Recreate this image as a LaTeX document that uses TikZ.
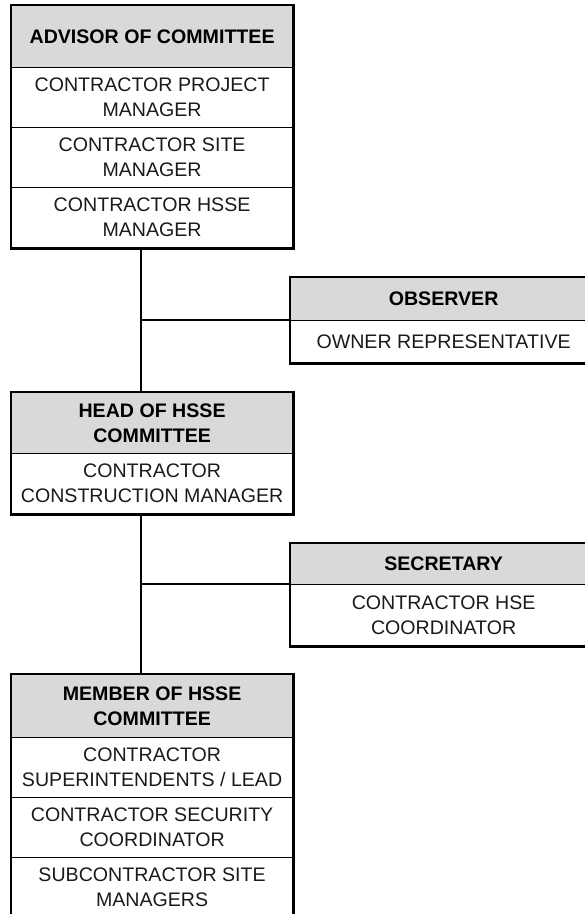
\documentclass[tikz,border=0pt]{standalone}
\usepackage{fontspec}
\setmainfont{Liberation Sans}
\definecolor{hdrgray}{HTML}{D9D9D9}
\definecolor{txtgray}{HTML}{1A1A1A}
\begin{document}
\begin{tikzpicture}[x=0.75pt,y=-0.75pt,
  cell/.style={draw=black, line width=0.9pt, align=center, inner sep=0pt,
    anchor=north west, text=txtgray,
    font=\fontsize{14.7pt}{18.75pt}\selectfont},
  hdr/.style={cell, fill=hdrgray, text=black,
    font=\fontsize{14.7pt}{18.75pt}\selectfont\bfseries},
  wl/.style={minimum width=281*0.75pt},
  wr/.style={minimum width=306*0.75pt},
  ht/.style={minimum height=#1*0.75pt},
  outer/.style={draw=black, line width=2.2pt},
  conn/.style={draw=black, line width=2pt}]
\useasboundingbox (0,0) rectangle (585,914);
\clip (0,0) rectangle (585,914);
\coordinate (sp) at (141,0);
% Advisor
\node[hdr,wl,ht=62] (a0) at (11,5) {ADVISOR OF COMMITTEE};
\node[cell,wl,ht=60] (a1) at (11,67) {CONTRACTOR PROJECT\\MANAGER};
\node[cell,wl,ht=60] (a2) at (11,127) {CONTRACTOR SITE\\MANAGER};
\node[cell,wl,ht=60] (a3) at (11,187) {CONTRACTOR HSSE\\MANAGER};
\draw[outer] (a0.north west) rectangle (a3.south east);
% Observer
\node[hdr,wr,ht=43] (o0) at (290,277) {OBSERVER};
\node[cell,wr,ht=42] (o1) at (290,320) {OWNER REPRESENTATIVE};
\draw[outer] (o0.north west) rectangle (o1.south east);
% Head
\node[hdr,wl,ht=61] (h0) at (11,392) {HEAD OF HSSE\\COMMITTEE};
\node[cell,wl,ht=60] (h1) at (11,453) {CONTRACTOR\\CONSTRUCTION MANAGER};
\draw[outer] (h0.north west) rectangle (h1.south east);
% Secretary
\node[hdr,wr,ht=41] (s0) at (290,543) {SECRETARY};
\node[cell,wr,ht=61] (s1) at (290,584) {CONTRACTOR HSE\\COORDINATOR};
\draw[outer] (s0.north west) rectangle (s1.south east);
% Member
\node[hdr,wl,ht=63] (m0) at (11,674) {MEMBER OF HSSE\\COMMITTEE};
\node[cell,wl,ht=60] (m1) at (11,737) {CONTRACTOR\\SUPERINTENDENTS / LEAD};
\node[cell,wl,ht=60] (m2) at (11,797) {CONTRACTOR SECURITY\\COORDINATOR};
\node[cell,wl,ht=60] (m3) at (11,857) {SUBCONTRACTOR SITE\\MANAGERS};
\draw[outer] (m0.north west) rectangle (m3.south east);
% Connectors
\draw[conn] (a3.south -| sp) -- (h0.north -| sp);
\draw[conn] (sp |- o1.north west) -- (o1.north west);
\draw[conn] (h1.south -| sp) -- (m0.north -| sp);
\draw[conn] (sp |- s1.north west) -- (s1.north west);
\end{tikzpicture}
\end{document}
